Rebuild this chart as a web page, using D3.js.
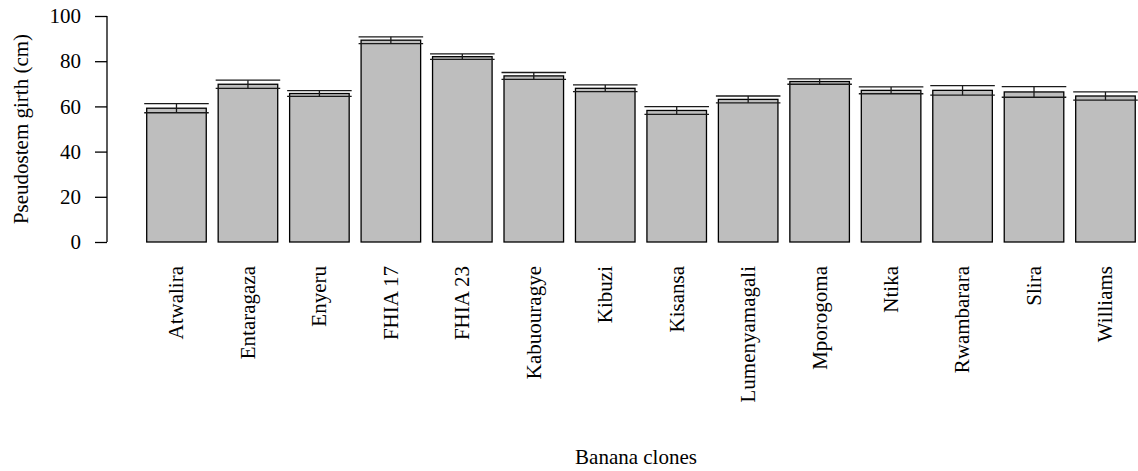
<!DOCTYPE html>
<html>
<head>
<meta charset="utf-8">
<script src="https://cdn.jsdelivr.net/npm/d3@7"></script>
<style>
  body { margin: 0; background: #fff; }
  svg text { font-family: "Liberation Serif", "Times New Roman", serif; fill: #000; }
</style>
</head>
<body>
<div id="chart"></div>
<script>
// banana clones and their mean pseudostem girth (cm) with standard errors
var clones = ["Atwalira", "Entaragaza", "Enyeru", "FHIA 17", "FHIA 23", "Kabuouragye", "Kibuzi",
    "Kisansa", "Lumenyamagali", "Mporogoma", "Ntika", "Rwambarara", "Slira", "Williams"];
var girth = [59.2, 69.8, 65.7, 89.3, 82.0, 73.5, 68.0, 58.2, 63.1, 71.0, 67.1, 67.1, 66.4, 64.6];
var stdErr = [2.0, 1.8, 1.3, 1.5, 1.2, 1.5, 1.5, 1.7, 1.5, 1.2, 1.5, 2.1, 2.35, 1.8];
var yTicks = [0, 20, 40, 60, 80, 100];

var width = 1138, height = 471;
var fontSize = "21px";

var svg = d3.select("#chart")
    .append("svg")
    .attr("width", width)
    .attr("height", height);

var x = d3.scaleBand()
    .domain(clones)
    .range([140.75, 1141.2])
    .paddingInner(1 / 6)
    .paddingOuter(1 / 12);

var y = d3.scaleLinear()
    .domain([0, 100])
    .range([242, 16]);

// bars
svg.append("g")
    .selectAll("rect")
    .data(clones)
    .enter()
    .append("rect")
    .attr("x", function (d) { return x(d); })
    .attr("y", function (d, i) { return y(girth[i]); })
    .attr("width", x.bandwidth())
    .attr("height", function (d, i) { return y(0) - y(girth[i]); })
    .style("fill", "#bebebe")
    .style("stroke", "#000")
    .style("stroke-width", 1.3);

// error bars
var capHalf = x.bandwidth() / 2 + 2.5;
var err = svg.append("g")
    .style("stroke", "#1a1a1a")
    .style("stroke-width", 1.3);
clones.forEach(function (d, i) {
    var cx = x(d) + x.bandwidth() / 2;
    var hi = y(girth[i] + stdErr[i]), lo = y(girth[i] - stdErr[i]);
    err.append("line").attr("x1", cx).attr("x2", cx).attr("y1", hi).attr("y2", lo);
    err.append("line").attr("x1", cx - capHalf).attr("x2", cx + capHalf).attr("y1", hi).attr("y2", hi);
    err.append("line").attr("x1", cx - capHalf).attr("x2", cx + capHalf).attr("y1", lo).attr("y2", lo);
});

// y axis
var yAxis = svg.append("g")
    .attr("transform", "translate(107,0)")
    .call(d3.axisLeft(y).tickValues(yTicks).tickSize(12).tickPadding(14));
yAxis.select(".domain").attr("d", "M0," + y(0) + "V" + y(100)).style("stroke", "#000").style("stroke-width", 1.3);
yAxis.selectAll(".tick line").style("stroke", "#000").style("stroke-width", 1.3);
yAxis.selectAll(".tick text")
    .style("font-family", "'Liberation Serif', 'Times New Roman', serif")
    .style("font-size", fontSize)
    .style("fill", "#000");

// x labels, rotated
svg.append("g")
    .selectAll("text")
    .data(clones)
    .enter()
    .append("text")
    .attr("transform", function (d) {
        return "translate(" + (x(d) + x.bandwidth() / 2) + ",266) rotate(-90)";
    })
    .attr("dy", "0.33em")
    .attr("text-anchor", "end")
    .style("font-size", fontSize)
    .text(function (d) { return d; });

// axis titles
svg.append("text")
    .attr("transform", "translate(28," + (y(0) + y(100)) / 2 + ") rotate(-90)")
    .attr("text-anchor", "middle")
    .style("font-size", fontSize)
    .text("Pseudostem girth (cm)");

svg.append("text")
    .attr("x", 636)
    .attr("y", 464)
    .attr("text-anchor", "middle")
    .style("font-size", fontSize)
    .text("Banana clones");
</script>
</body>
</html>
